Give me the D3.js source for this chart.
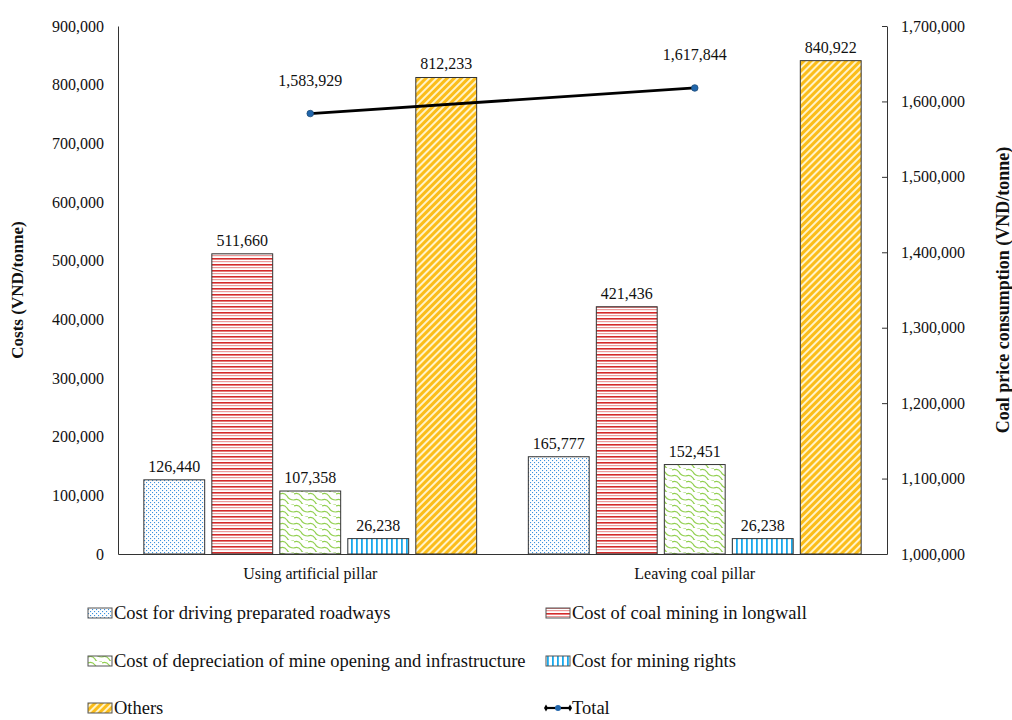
<!DOCTYPE html>
<html>
<head>
<meta charset="utf-8">
<script src="https://cdn.jsdelivr.net/npm/d3@7"></script>
<style>
  html, body { margin: 0; padding: 0; background: #fff; }
  svg { display: block; font-family: "Liberation Serif", "Times New Roman", serif; }
</style>
</head>
<body>
<svg id="chart" width="1012" height="720"></svg>
<script>
// Cost components per mining method (VND/tonne)
const categories = ["Using artificial pillar", "Leaving coal pillar"];
const seriesNames = [
  "Cost for driving preparated roadways",
  "Cost of coal mining in longwall",
  "Cost of depreciation of mine opening and infrastructure",
  "Cost for mining rights",
  "Others"
];
const drivingRoadways = [126440, 165777];
const longwallMining = [511660, 421436];
const depreciation = [107358, 152451];
const miningRights = [26238, 26238];
const others = [812233, 840922];
const totalConsumption = [1583929, 1617844];
const leftTicks = [0, 100000, 200000, 300000, 400000, 500000, 600000, 700000, 800000, 900000];
const rightTicks = [1000000, 1100000, 1200000, 1300000, 1400000, 1500000, 1600000, 1700000];

const seriesValues = [drivingRoadways, longwallMining, depreciation, miningRights, others];
const patternIds = ["pDots", "pHStripe", "pShingle", "pVStripe", "pDiag"];

const svg = d3.select("#chart");
const margin = { left: 118, right: 125, top: 26, bottom: 166 };
const W = 1012, H = 720;
const plotL = margin.left, plotR = W - margin.right, plotT = margin.top, plotB = H - margin.bottom;
const FS = 16;

// ---- fill patterns ----
const defs = svg.append("defs");
// fine blue dots
let p = defs.append("pattern").attr("id", "pDots").attr("patternUnits", "userSpaceOnUse")
  .attr("width", 4).attr("height", 4);
p.append("rect").attr("width", 4).attr("height", 4).attr("fill", "#fff");
p.append("rect").attr("x", 0).attr("y", 0).attr("width", 1.1).attr("height", 1.1).attr("fill", "#3d92dd");
p.append("rect").attr("x", 2).attr("y", 2).attr("width", 1.1).attr("height", 1.1).attr("fill", "#3d92dd");
// red horizontal stripes
p = defs.append("pattern").attr("id", "pHStripe").attr("patternUnits", "userSpaceOnUse")
  .attr("width", 6).attr("height", 6);
p.append("rect").attr("width", 6).attr("height", 6).attr("fill", "#fff");
p.append("rect").attr("y", 0).attr("width", 6).attr("height", 1.6).attr("fill", "#d42a2a");
p.append("rect").attr("y", 3).attr("width", 6).attr("height", 1.2).attr("fill", "#eb9a9a");
// green shingle
p = defs.append("pattern").attr("id", "pShingle").attr("patternUnits", "userSpaceOnUse")
  .attr("width", 14).attr("height", 12);
p.append("rect").attr("width", 14).attr("height", 12).attr("fill", "#fff");
p.append("path").attr("d", "M0,2 Q4,0 7,4 Q9,8 14,8 M7,-4 Q9,0 14,0 M0,8 Q4,6 7,10 Q9,14 14,14")
  .attr("fill", "none").attr("stroke", "#92d050").attr("stroke-width", 1.2);
// blue vertical stripes
p = defs.append("pattern").attr("id", "pVStripe").attr("patternUnits", "userSpaceOnUse")
  .attr("width", 5).attr("height", 5);
p.append("rect").attr("width", 5).attr("height", 5).attr("fill", "#fff");
p.append("rect").attr("x", 1).attr("width", 1.8).attr("height", 5).attr("fill", "#1aa9ec");
// gold diagonal stripes
p = defs.append("pattern").attr("id", "pDiag").attr("patternUnits", "userSpaceOnUse")
  .attr("width", 5).attr("height", 5).attr("patternTransform", "rotate(45)");
p.append("rect").attr("width", 5).attr("height", 5).attr("fill", "#fff3c8");
p.append("rect").attr("x", 0).attr("width", 3).attr("height", 5).attr("fill", "#fbbd1a");

// ---- scales ----
const x0 = d3.scaleBand().domain(categories).range([plotL, plotR]).paddingInner(0).paddingOuter(0);
const x1 = d3.scaleBand().domain(d3.range(seriesNames.length)).range([0, x0.bandwidth()])
  .paddingInner(0.105).paddingOuter(0.38);
const yL = d3.scaleLinear().domain([0, 900000]).range([plotB, plotT]);
const yR = d3.scaleLinear().domain([1000000, 1700000]).range([plotB, plotT]);
const fmt = d3.format(",");

// ---- bars ----
seriesValues.forEach((vals, si) => {
  const g = svg.append("g");
  categories.forEach((c, ci) => {
    const bx = x0(c) + x1(si);
    g.append("rect")
      .attr("x", bx).attr("y", yL(vals[ci]))
      .attr("width", x1.bandwidth()).attr("height", plotB - yL(vals[ci]))
      .attr("fill", `url(#${patternIds[si]})`)
      .attr("stroke", "#333").attr("stroke-width", 1);
    g.append("text")
      .attr("x", bx + x1.bandwidth() / 2).attr("y", yL(vals[ci]) - 8)
      .attr("text-anchor", "middle").attr("font-size", FS).attr("fill", "#111")
      .text(fmt(vals[ci]));
  });
});

// ---- left axis ----
const axL = svg.append("g").attr("transform", `translate(${plotL},0)`)
  .call(d3.axisLeft(yL).tickValues(leftTicks).tickFormat(fmt).tickSize(0).tickPadding(14));
axL.select(".domain").attr("stroke", "#333");
axL.selectAll("text").attr("font-size", FS).attr("fill", "#111").attr("font-family", "Liberation Serif");

// ---- right axis ----
const axR = svg.append("g").attr("transform", `translate(${plotR},0)`)
  .call(d3.axisRight(yR).tickValues(rightTicks).tickFormat(fmt).tickSizeInner(-5).tickSizeOuter(0).tickPadding(14));
axR.select(".domain").attr("stroke", "#333");
axR.selectAll(".tick line").attr("stroke", "#333");
axR.selectAll("text").attr("font-size", FS).attr("fill", "#111").attr("font-family", "Liberation Serif");

// ---- bottom axis ----
const axB = svg.append("g").attr("transform", `translate(0,${plotB})`)
  .call(d3.axisBottom(x0).tickSize(0).tickPadding(14));
axB.select(".domain").attr("stroke", "#333");
axB.selectAll("text").attr("font-size", FS).attr("fill", "#111").attr("font-family", "Liberation Serif");

// ---- total line ----
const totalX = (ci) => x0(categories[ci]) + x1(2) + x1.bandwidth() / 2;
const line = d3.line().x((d, i) => totalX(i)).y(d => yR(d));
svg.append("path").datum(totalConsumption).attr("d", line)
  .attr("fill", "none").attr("stroke", "#000").attr("stroke-width", 2.8);
totalConsumption.forEach((v, i) => {
  svg.append("circle").attr("cx", totalX(i)).attr("cy", yR(v)).attr("r", 3.3)
    .attr("fill", "#2166ac").attr("stroke", "#1f4e79").attr("stroke-width", 0.8);
  svg.append("text").attr("x", totalX(i)).attr("y", yR(v) - 28)
    .attr("text-anchor", "middle").attr("font-size", FS).attr("fill", "#111")
    .text(fmt(v));
});

// ---- axis titles ----
svg.append("text")
  .attr("transform", `translate(23,${(plotT + plotB) / 2}) rotate(-90)`)
  .attr("text-anchor", "middle").attr("font-size", 17).attr("font-weight", "bold").attr("fill", "#111")
  .text("Costs (VND/tonne)");
svg.append("text")
  .attr("transform", `translate(1009,${(plotT + plotB) / 2}) rotate(-90)`)
  .attr("text-anchor", "middle").attr("font-size", 18).attr("font-weight", "bold").attr("fill", "#111")
  .text("Coal price consumption (VND/tonne)");

// ---- legend ----
const legendItems = seriesNames.map((n, i) => ({ name: n, pattern: patternIds[i] }));
legendItems.push({ name: "Total", line: true });
const legCols = [88, 546];
const legRows = [613, 661, 708];
legendItems.forEach((d, i) => {
  const lx = legCols[i % 2], ly = legRows[Math.floor(i / 2)];
  const g = svg.append("g").attr("transform", `translate(${lx},${ly})`);
  if (d.line) {
    g.append("line").attr("x1", 0).attr("x2", 24).attr("y1", 0).attr("y2", 0)
      .attr("stroke", "#000").attr("stroke-width", 2.2);
    [0, 24].forEach(px => g.append("path").attr("d", d3.symbol(d3.symbolDiamond, 14)())
      .attr("transform", `translate(${px},0)`).attr("fill", "#000"));
    g.append("circle").attr("cx", 12).attr("cy", 0).attr("r", 3).attr("fill", "#2166ac");
  } else {
    g.append("rect").attr("x", 0).attr("y", -5).attr("width", 24).attr("height", 10)
      .attr("fill", `url(#${d.pattern})`).attr("stroke", "#555").attr("stroke-width", 1);
  }
  g.append("text").attr("x", 26).attr("y", 6).attr("font-size", 18.5).attr("fill", "#111")
    .text(d.name);
});
</script>
</body>
</html>
